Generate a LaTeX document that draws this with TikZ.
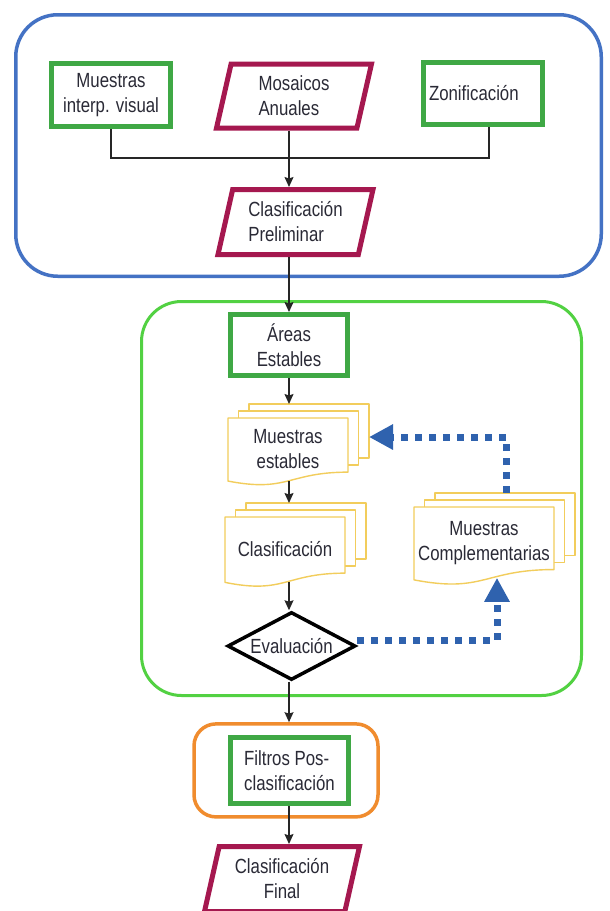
\documentclass[tikz,border=0pt]{standalone}
\usepackage{fontspec}
\setmainfont{Liberation Sans}[FakeStretch=0.82]
\usetikzlibrary{arrows.meta,shapes.geometric}

\definecolor{grpblue}{HTML}{4472C4}
\definecolor{grpgreen}{HTML}{52D142}
\definecolor{grporange}{HTML}{F08C2E}
\definecolor{boxgreen}{HTML}{3FA845}
\definecolor{paramag}{HTML}{A5184F}
\definecolor{docyellow}{HTML}{F2CD5C}
\definecolor{loopblue}{HTML}{2F62AE}
\definecolor{linec}{HTML}{262626}
\definecolor{txtc}{HTML}{2A2A36}

% offsets of the sheets stacked behind a document
\def\dsdx{10.5}
\def\dsdy{7}

% stacked documents: name, left x, top y of front sheet, right x, sheet height, text
\newcommand\docstack[6]{%
  \pgfmathsetmacro\dsR{#3+0.802*#5}%
  \pgfmathsetmacro\dsL{#3+0.934*#5}%
  \pgfmathsetmacro\dsC{#3+1.1075*#5}%
  \pgfmathsetmacro\dsM{(#2+#4)/2}%
  \pgfmathsetmacro\dsW{#4-#2+2*\dsdx}%
  \pgfmathsetmacro\dsH{0.934*#5+2*\dsdy}%
  \draw[docline] (#2+2*\dsdx,#3-\dsdy) -- (#2+2*\dsdx,#3-2*\dsdy) -- (#4+2*\dsdx,#3-2*\dsdy)
    -- (#4+2*\dsdx,\dsR-2*\dsdy) -- (#4+\dsdx,\dsR-2*\dsdy);
  \draw[docline] (#2+\dsdx,#3) -- (#2+\dsdx,#3-\dsdy) -- (#4+\dsdx,#3-\dsdy)
    -- (#4+\dsdx,\dsR-\dsdy) -- (#4,\dsR-\dsdy);
  \draw[docline] (#2,#3) -- (#4,#3) -- (#4,\dsR)
    .. controls (\dsM,\dsR) and (\dsM,\dsC) .. (#2,\dsL) -- cycle;
  \node[inner sep=0pt, outer sep=0pt, minimum width=\dsW pt, minimum height=\dsH pt,
        anchor=north west] (#1) at (#2,#3-2*\dsdy) {};
  \node[align=center] (#1-text) at (\dsM,#3+0.46*#5) {#6};
}

\begin{document}
\begin{tikzpicture}[x=1pt,y=-1pt,
  every node/.style={font=\fontsize{20.5}{25}\selectfont, text=txtc},
  grp/.style={draw, rectangle, fill=white, inner sep=0pt},
  gbox/.style={draw=boxgreen, line width=5pt, fill=white, rectangle, inner sep=0pt, align=center},
  para/.style={draw=paramag, line width=5pt, fill=white, trapezium,
    trapezium left angle=70, trapezium right angle=110, trapezium stretches body,
    inner sep=0pt, minimum width=155pt, minimum height=64pt},
  docline/.style={draw=docyellow, line width=1.4pt, fill=white, line join=round},
  conn/.style={draw=linec, line width=1.3pt},
  arr/.style={conn, -{Stealth[length=10pt,width=9pt,inset=1.5pt]}},
  dotarr/.style={draw=loopblue, line width=7pt, dash pattern=on 7pt off 7pt,
    -{Triangle[length=24pt,width=24pt]}},
]
\useasboundingbox (0,0) rectangle (610,911);
\fill[white] (0,0) rectangle (610,911);

% group frames
\node[grp, draw=grpblue, line width=3.5pt, rounded corners=42pt,
      minimum width=585.5pt, minimum height=261.5pt] (grpA) at (308.5,145.5) {};
\node[grp, draw=grpgreen, line width=3pt, rounded corners=40pt,
      minimum width=440pt, minimum height=394pt] (grpB) at (361.5,498.5) {};
\node[grp, draw=grporange, line width=3.5pt, rounded corners=22pt,
      minimum width=184pt, minimum height=93pt] (grpC) at (286,770.4) {};

% input stage
\node[gbox, minimum width=119pt, minimum height=63pt] (mue) at (111,95) {Muestras\\interp. visual};
\node[para, align=left] (mos) at (294,96) {Mosaicos\\Anuales};
\node[gbox, minimum height=62pt, text width=108pt, inner xsep=5.5pt, align=left] (zon) at (483,93.5) {Zonificación};
\node[para, align=left, minimum height=65pt] (prelim) at (295.5,222) {Clasificación\\Preliminar};

% stable areas loop
\node[gbox, minimum width=117pt, minimum height=61pt] (are) at (289,345) {Áreas\\Estables};
\docstack{ms}{228}{418}{348}{67.5}{Muestras\\estables}
\docstack{cla}{225}{517}{345}{70}{Clasificación}
\docstack{comp}{414}{507}{554}{78}{Muestras\\Complementarias}
\node[diamond, draw=black, line width=3.5pt, fill=white, inner sep=0pt, aspect=1.9,
      minimum width=128pt, minimum height=68pt] (eval) at (291.5,646) {Evaluación};

% post-processing
\node[gbox, minimum width=118pt, minimum height=66pt, align=left] (fil) at (289.5,770.5) {Filtros Pos-\\clasificación};
\node[para, align=center, minimum height=65pt] (fin) at (282,879) {Clasificación\\Final};

% connectors
\coordinate (spine) at (289,0);
\draw[conn] (mue.south) -- ++(0,29) -| ([xshift=6pt]zon.south);
\draw[arr] (mos.south -| spine) -- (prelim.north -| spine);
\draw[arr] (prelim.south -| spine) -- (are.north -| spine);
\draw[arr] (are.south -| spine) -- (ms.north -| spine);
\draw[arr] (ms.south -| spine) -- (cla.north -| spine);
\draw[arr] (cla.south -| spine) -- (eval.north -| spine);
\draw[arr] (eval.south -| spine) -- (grpC.north -| spine);
\draw[arr] (fil.south -| spine) -- (fin.north -| spine);

% feedback loop
\draw[dotarr] ([shift={(0,-6)}]eval.east) -| ([shift={(2.5,-2)}]comp.south);
\draw[dotarr] ([shift={(11.5,0)}]comp.north) |- ([shift={(0,-5.5)}]ms.east);
\end{tikzpicture}
\end{document}
